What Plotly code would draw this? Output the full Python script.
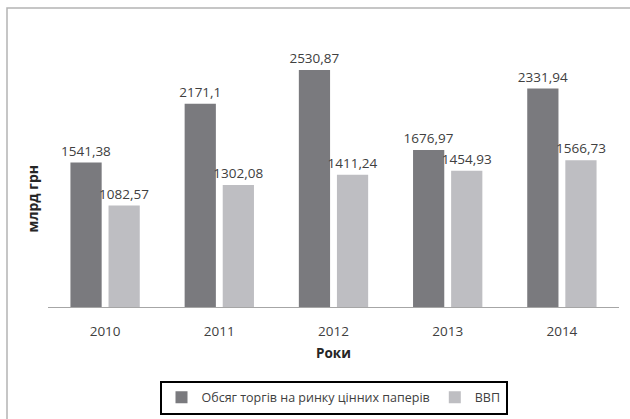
import plotly.graph_objects as go

years = ["2010", "2011", "2012", "2013", "2014"]
trading_volume = [1541.38, 2171.1, 2530.87, 1676.97, 2331.94]
gdp = [1082.57, 1302.08, 1411.24, 1454.93, 1566.73]
series_names = ["Обсяг торгів на ринку цінних паперів", "ВВП"]
x_title = "Роки"
y_title = "млрд грн"

def fmt(v):
    return ("%g" % v).replace(".", ",")

FONT = "Open Sans"
TXT = "#404040"

fig = go.Figure()
fig.add_trace(go.Bar(
    x=years, y=trading_volume, name=series_names[0],
    marker=dict(color="#7a7a7e", line=dict(width=0)),
    text=[fmt(v) for v in trading_volume], textposition="outside",
    constraintext="none",
    textfont=dict(family=FONT, size=13.5, color=TXT), cliponaxis=False,
))
fig.add_trace(go.Bar(
    x=years, y=gdp, name=series_names[1],
    marker=dict(color="#bebec2", line=dict(width=0)),
    text=[fmt(v) for v in gdp], textposition="outside",
    constraintext="none",
    textfont=dict(family=FONT, size=13.5, color=TXT), cliponaxis=False,
))

fig.update_layout(
    width=630, height=419,
    margin=dict(l=48, r=11, t=26, b=112, autoexpand=False),
    paper_bgcolor="white", plot_bgcolor="white",
    barmode="group", bargap=0.333, bargroupgap=0.18,
    font=dict(family=FONT, size=13.5, color=TXT),
    showlegend=True,
    legend=dict(
        orientation="h", x=0.5, xanchor="center", y=-0.262, yanchor="top",
        bordercolor="black", borderwidth=2,
        font=dict(family=FONT, size=12.5, color=TXT),
        itemwidth=30,
    ),
    xaxis=dict(
        showline=True, linecolor="#a6a6a6", linewidth=1,
        showgrid=False, ticks="outside", ticklen=12, tickcolor="rgba(0,0,0,0)",
        tickfont=dict(family=FONT, size=13.5, color=TXT), automargin=False,
    ),
    yaxis=dict(visible=False, range=[0, 3000]),
    annotations=[
        dict(text="<b>" + x_title + "</b>", xref="paper", yref="paper",
             x=0.5, y=-0.164, xanchor="center", yanchor="middle",
             showarrow=False, font=dict(family=FONT, size=13.5, color="#262626")),
        dict(text="<b>" + y_title + "</b>", xref="paper", yref="paper",
             x=-0.027, y=0.385, xanchor="center", yanchor="middle", textangle=-90,
             showarrow=False, font=dict(family=FONT, size=14, color="#262626")),
    ],
    shapes=[
        dict(type="rect", xref="paper", yref="paper",
             x0=-0.0718, x1=1.05, y0=-0.45, y1=1.064,
             line=dict(color="#b4b4b4", width=1.5), fillcolor="rgba(0,0,0,0)",
             layer="below"),
    ],
)

fig.write_html("out.html", config={"displayModeBar": False},
               post_script="document.body.style.margin='0';")
